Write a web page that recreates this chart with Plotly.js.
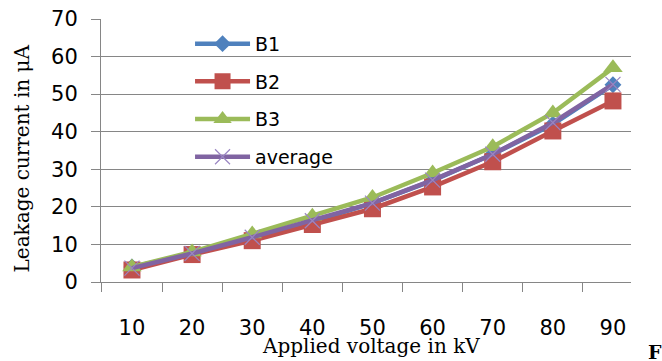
<!DOCTYPE html>
<html>
<head>
<meta charset="utf-8">
<script src="https://cdn.plot.ly/plotly-3.0.1.min.js"></script>
<style>html,body{margin:0;padding:0;background:#fff;}#chart{width:662px;height:361px;}</style>
</head>
<body>
<div id="chart"></div>
<script>
const voltages = [10, 20, 30, 40, 50, 60, 70, 80, 90];
const tickLabels = ["10", "20", "30", "40", "50", "60", "70", "80", "90"];
const b1 = [4, 7.5, 12, 16, 21, 27, 34, 42, 52.5];
const b2 = [3.2, 7.3, 11, 15.3, 19.5, 25.3, 32, 40.2, 48.2];
const b3 = [4, 8, 12.8, 17.5, 22.5, 29, 36, 45, 57];
const avg = [3.7, 7.6, 11.9, 16.3, 21, 27.1, 34, 42.4, 52.6];

const traces = [
  {x: voltages, y: b1, name: "B1", mode: "lines+markers",
   line: {color: "#4F81BD", width: 4.5}, marker: {symbol: "diamond", size: 13, color: "#4F81BD"}, legendgroup: "a"},
  {x: voltages, y: b2, name: "B2", mode: "lines+markers",
   line: {color: "#C0504D", width: 4.5}, marker: {symbol: "square", size: 17, color: "#C0504D"}, legendgroup: "b"},
  {x: voltages, y: b3, name: "B3", mode: "lines+markers",
   line: {color: "#9BBB59", width: 4.5}, marker: {symbol: "triangle-up", size: 17, color: "#9BBB59"}, legendgroup: "c"},
  {x: voltages, y: avg, name: "average", mode: "lines+markers",
   line: {color: "#8064A2", width: 4.5}, marker: {symbol: "x-thin", size: 15, line: {color: "#9A86C2", width: 1.2}, color: "#9A86C2"}, legendgroup: "d"}
];

const layout = {
  width: 662, height: 361,
  margin: {l: 101, r: 31, t: 19, b: 79},
  paper_bgcolor: "#fff", plot_bgcolor: "#fff",
  showlegend: true,
  legend: {x: 0.168, y: 0.978, xanchor: "left", yanchor: "top", bgcolor: "rgba(255,255,255,0)",
           font: {family: "DejaVu Sans", size: 19, color: "#000"}, tracegroupgap: 10, traceorder: "grouped", itemwidth: 55},
  xaxis: {range: [4.85, 93], tickvals: voltages, ticktext: tickLabels, ticks: "", showgrid: false, zeroline: false,
          showline: true, linecolor: "#868686", linewidth: 1,
          tickfont: {family: "DejaVu Sans", size: 21, color: "#000"}, ticklabelstandoff: 27,
          minor: {tick0: 5, dtick: 10, ticks: "outside", ticklen: 9, tickcolor: "#868686", showgrid: false}},
  yaxis: {range: [0, 70], dtick: 10, showgrid: true, gridcolor: "#868686", gridwidth: 1, zeroline: false,
          showline: true, linecolor: "#868686", linewidth: 1, ticks: "outside", ticklen: 9, tickcolor: "#868686",
          tickfont: {family: "DejaVu Sans", size: 21, color: "#000"}, ticklabelstandoff: 9},
  annotations: [
    {text: "Applied voltage in kV", xref: "paper", yref: "paper", x: 0.51, y: -0.245, xanchor: "center", yanchor: "middle",
     showarrow: false, font: {family: "DejaVu Serif", size: 20, color: "#000"}},
    {text: "Leakage current in μA", xref: "paper", yref: "paper", x: -0.149, y: 0.47, xanchor: "center", yanchor: "middle",
     textangle: -90, showarrow: false, font: {family: "DejaVu Serif", size: 20, color: "#000"}},
    {text: "<b>F</b>", xref: "paper", yref: "paper", x: 1.028, y: -0.265, xanchor: "left", yanchor: "middle",
     showarrow: false, font: {family: "DejaVu Serif", size: 19, color: "#000"}}
  ]
};

Plotly.newPlot("chart", traces, layout, {displayModeBar: false, staticPlot: true});
</script>
</body>
</html>
